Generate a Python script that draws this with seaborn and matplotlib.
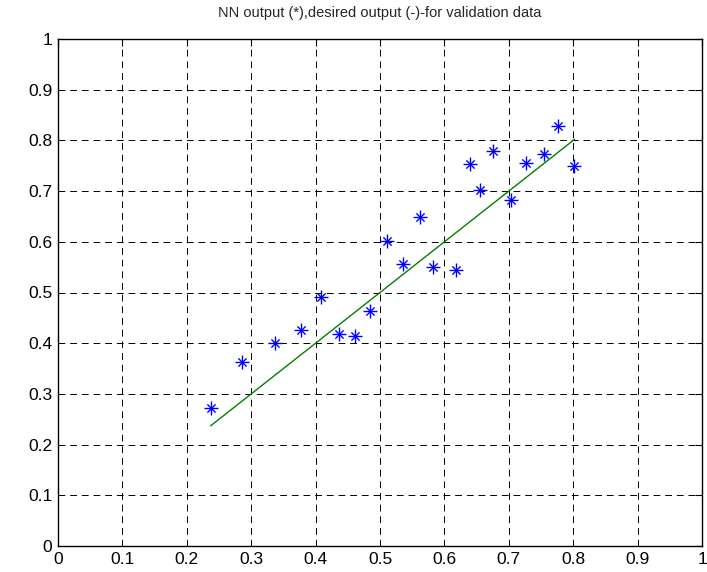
import matplotlib
matplotlib.use("Agg")
import matplotlib.pyplot as plt
import seaborn as sns
import numpy as np
import pandas as pd

# Data
desired = [0.237, 0.285, 0.337, 0.378, 0.408, 0.436, 0.461, 0.484, 0.511, 0.535, 0.562,
           0.583, 0.618, 0.639, 0.656, 0.676, 0.703, 0.727, 0.754, 0.777, 0.802]
nn_output = [0.272, 0.362, 0.400, 0.427, 0.492, 0.418, 0.415, 0.463, 0.602, 0.556, 0.649,
             0.551, 0.544, 0.753, 0.703, 0.779, 0.682, 0.756, 0.774, 0.829, 0.749]
tick_vals = [0, 0.1, 0.2, 0.3, 0.4, 0.5, 0.6, 0.7, 0.8, 0.9, 1]
tick_labels = ["0", "0.1", "0.2", "0.3", "0.4", "0.5", "0.6", "0.7", "0.8", "0.9", "1"]
title = "NN output (*),desired output (-)-for validation data"

sns.set_style("white")
plt.rcParams['font.family'] = ['Liberation Sans', 'DejaVu Sans']

df = pd.DataFrame({"desired": desired, "nn": nn_output})

fig = plt.figure(figsize=(7.07, 5.72), dpi=100)
ax = fig.add_axes([58/707, 26/572, 644/707, 507/572])

sns.lineplot(data=df, x="desired", y="desired", color="#008000", linewidth=1.0,
             estimator=None, sort=True, ax=ax, zorder=3)
sns.scatterplot(data=df, x="desired", y="nn", marker="+", s=95, color="#0000ff",
                linewidth=1.0, ax=ax, zorder=4)
sns.scatterplot(data=df, x="desired", y="nn", marker="x", s=35, color="#0000ff",
                linewidth=1.0, ax=ax, zorder=4)

ax.set_xlim(0, 1)
ax.set_ylim(0, 1)
ax.set_xticks(tick_vals)
ax.set_xticklabels(tick_labels)
ax.set_yticks(tick_vals)
ax.set_yticklabels(tick_labels)
ax.set_xlabel("")
ax.set_ylabel("")
ax.tick_params(direction="in", length=5, width=0.8, top=True, right=True,
               labelsize=12.5, colors="black", pad=4)
ax.grid(True, color="black", linestyle=(0, (7, 5)), linewidth=0.7)
for s in ax.spines.values():
    s.set_visible(True)
    s.set_color("black")
    s.set_linewidth(1.0)
ax.set_title(title, fontsize=10.5, pad=16)

fig.savefig("out.png", dpi=100)
